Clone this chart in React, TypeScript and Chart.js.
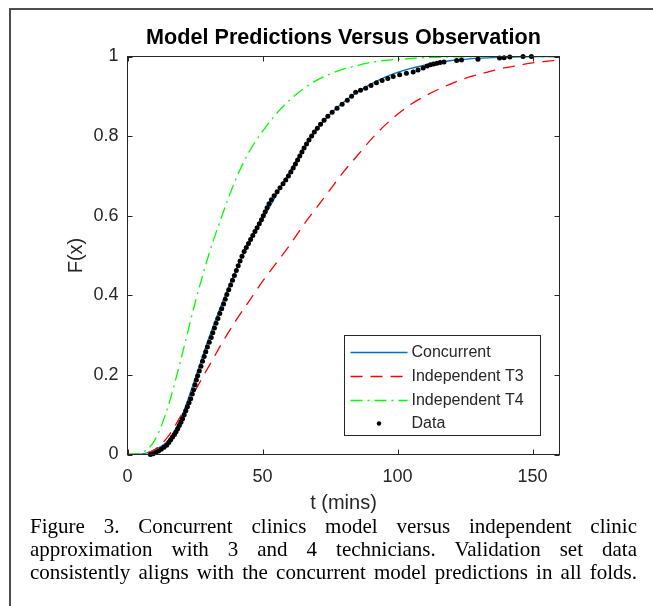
import React, { useEffect, useRef } from "react";
import { Chart, registerables } from "chart.js";

Chart.register(...registerables);

// ---------- data ----------
const timeGrid = [0, 5, 10, 15, 20, 25, 30, 35, 40, 45, 50, 55, 60, 65, 70, 75, 80, 85, 90, 95, 100, 105, 110, 115, 120, 125, 130, 135, 140, 145, 150, 155, 160];

const concurrentF = [0, 0.001, 0.012, 0.035, 0.095, 0.19, 0.29, 0.38, 0.46, 0.53, 0.59, 0.65, 0.71, 0.765, 0.815, 0.855, 0.885, 0.91, 0.93, 0.947, 0.96, 0.97, 0.978, 0.985, 0.99, 0.993, 0.996, 0.997, 0.998, 0.999, 1, 1, 1];

const independentT3F = [0, 0.001, 0.012, 0.045, 0.1, 0.16, 0.22, 0.28, 0.335, 0.385, 0.435, 0.48, 0.525, 0.575, 0.62, 0.665, 0.71, 0.75, 0.79, 0.825, 0.855, 0.88, 0.9, 0.917, 0.932, 0.945, 0.955, 0.964, 0.972, 0.978, 0.984, 0.988, 0.992];

const independentT4F = [0, 0.004, 0.035, 0.12, 0.245, 0.38, 0.5, 0.6, 0.69, 0.76, 0.812, 0.855, 0.89, 0.918, 0.94, 0.956, 0.968, 0.977, 0.985, 0.99, 0.993, 0.995, 0.997, 0.998, 0.999, 0.999, 1, 1, 1, 1, 1, 1, 1];

const dataT = [8.5, 9.5, 10.5, 11.5, 12.5, 13.5, 14.5, 15.3, 16, 16.7,
  17.4, 18, 18.6, 19.2, 19.8, 20.4, 21, 21.6, 22.2, 22.8,
  23.4, 24, 24.5, 25, 25.5, 26, 26.6, 27.2, 27.8, 28.4,
  29, 29.6, 30.3, 31, 31.6, 32.2, 32.8, 33.5, 34.2, 34.9,
  35.6, 36.2, 36.8, 37.5, 38.2, 38.9, 39.6, 40.3, 41, 41.7,
  42.4, 43.2, 44, 44.8, 45.6, 46.4, 47.2, 48, 48.8, 49.6,
  50.3, 51, 51.7, 52.4, 53.3, 54.3, 55.4, 56.5, 57.6, 58.6,
  59.6, 60.5, 61.4, 62.2, 63, 63.8, 64.6, 65.4, 66.3, 67.2,
  68.2, 69.2, 70.3, 71.5, 72.8, 74.2, 75.8, 77.6, 79.5, 81.4,
  83, 84.5, 86.3, 88.2, 90.2, 92.2, 94.3, 96.4, 98.4, 100.8,
  103.3, 105.8, 107.6, 109.5, 111, 112.2, 113.4, 114.6, 115.8, 117.2,
  121.9, 123.7, 129.8, 137.8, 139.5, 141.6, 146.5, 149.6];

const dataF = [0, 0.002, 0.005, 0.009, 0.013, 0.018, 0.023, 0.03, 0.037, 0.044,
  0.05, 0.057, 0.065, 0.073, 0.081, 0.09, 0.1, 0.11, 0.12, 0.13,
  0.14, 0.152, 0.163, 0.175, 0.187, 0.198, 0.21, 0.222, 0.234, 0.246,
  0.258, 0.27, 0.282, 0.294, 0.306, 0.318, 0.33, 0.342, 0.354, 0.366,
  0.378, 0.39, 0.402, 0.414, 0.426, 0.438, 0.45, 0.462, 0.474, 0.486,
  0.498, 0.51, 0.52, 0.53, 0.54, 0.55, 0.56, 0.57, 0.58, 0.59,
  0.6, 0.61, 0.62, 0.63, 0.64, 0.65, 0.66, 0.67, 0.68, 0.69,
  0.7, 0.71, 0.72, 0.73, 0.74, 0.75, 0.76, 0.77, 0.78, 0.79,
  0.8, 0.81, 0.82, 0.83, 0.84, 0.85, 0.86, 0.87, 0.88, 0.89,
  0.9, 0.91, 0.915, 0.92, 0.927, 0.934, 0.94, 0.945, 0.95, 0.954,
  0.958, 0.961, 0.966, 0.971, 0.976, 0.979, 0.981, 0.983, 0.985, 0.986,
  0.99, 0.991, 0.993, 0.996, 0.997, 0.999, 1, 1];

const seriesNames = ["Concurrent", "Independent T3", "Independent T4", "Data"];
const xTicks = [0, 50, 100, 150];
const xTickLabels = ["0", "50", "100", "150"];
const yTicks = [0, 0.2, 0.4, 0.6, 0.8, 1];
const yTickLabels = ["0", "0.2", "0.4", "0.6", "0.8", "1"];
const chartTitle = "Model Predictions Versus Observation";
const xTitle = "t (mins)";
const yTitle = "F(x)";
const captionLines = [
  "Figure 3. Concurrent clinics model versus independent clinic",
  "approximation with 3 and 4 technicians. Validation set data",
  "consistently aligns with the concurrent model predictions in all folds.",
];

// ---------- styling ----------
const SANS = '"Liberation Sans", Arial, Helvetica, sans-serif';
const AX = "#262626";
const BLUE = "#0072BD";
const RED = "#FF0000";
const GREEN = "#00FF00";
const RED_DASH = [12, 8];
const GREEN_DASH = [12, 5, 2, 5];

const axesBoxPlugin = {
  id: "axesBox",
  afterDatasetsDraw(chart: any) {
    const { ctx, chartArea: a, scales } = chart;
    const xs = scales.x;
    const ys = scales.y;
    ctx.save();
    ctx.strokeStyle = AX;
    ctx.lineWidth = 1;
    ctx.setLineDash([]);
    ctx.strokeRect(a.left, a.top, a.right - a.left, a.bottom - a.top);
    const tl = 5;
    ctx.beginPath();
    xTicks.forEach((v) => {
      const px = Math.round(xs.getPixelForValue(v)) + 0.5;
      ctx.moveTo(px, a.bottom);
      ctx.lineTo(px, a.bottom - tl);
      ctx.moveTo(px, a.top);
      ctx.lineTo(px, a.top + tl);
    });
    yTicks.forEach((v) => {
      const py = Math.round(ys.getPixelForValue(v)) + 0.5;
      ctx.moveTo(a.left, py);
      ctx.lineTo(a.left + tl, py);
      ctx.moveTo(a.right, py);
      ctx.lineTo(a.right - tl, py);
    });
    ctx.stroke();
    ctx.restore();
  },
  afterDraw(chart: any) {
    const { ctx, chartArea: a } = chart;
    ctx.save();
    // title centred over the axes box
    ctx.fillStyle = "#000000";
    ctx.font = `bold 21.6px ${SANS}`;
    ctx.textAlign = "center";
    ctx.textBaseline = "middle";
    ctx.fillText(chartTitle, (a.left + a.right) / 2, a.top - 18.5);

    // legend box
    const bx = a.right - 215;
    const by = a.bottom - 119;
    const bw = 196;
    const bh = 100;
    ctx.fillStyle = "#ffffff";
    ctx.fillRect(bx, by, bw, bh);
    ctx.strokeStyle = AX;
    ctx.lineWidth = 1;
    ctx.setLineDash([]);
    ctx.strokeRect(bx, by, bw, bh);
    const rowY = [by + 16, by + 40, by + 64, by + 87.5];
    const lx0 = bx + 6;
    const lx1 = bx + 63;
    chart.data.datasets.forEach((ds: any, i: number) => {
      const y = Math.round(rowY[i]) + 0.5;
      if (ds.showLine === false) {
        ctx.fillStyle = ds.backgroundColor;
        ctx.beginPath();
        ctx.arc((lx0 + lx1) / 2, y, 2.2, 0, Math.PI * 2);
        ctx.fill();
      } else {
        ctx.strokeStyle = ds.borderColor;
        ctx.lineWidth = ds.borderWidth;
        ctx.setLineDash(ds.borderDash || []);
        ctx.beginPath();
        ctx.moveTo(lx0, y);
        ctx.lineTo(lx1, y);
        ctx.stroke();
      }
      ctx.setLineDash([]);
      ctx.fillStyle = AX;
      ctx.font = `16px ${SANS}`;
      ctx.textBaseline = "middle";
      ctx.textAlign = "left";
      ctx.fillText(ds.label, lx1 + 4, y);
    });
    ctx.restore();
  },
};

export default function App() {
  const ref = useRef<HTMLCanvasElement>(null);

  useEffect(() => {
    const canvas = ref.current;
    if (!canvas) return;
    const toPts = (ys: number[]) => timeGrid.map((t, i) => ({ x: t, y: ys[i] }));
    const chart = new Chart(canvas, {
      type: "line",
      data: {
        datasets: [
          {
            label: seriesNames[0],
            data: toPts(concurrentF),
            borderColor: BLUE,
            backgroundColor: BLUE,
            borderWidth: 1.3,
            pointRadius: 0,
            cubicInterpolationMode: "monotone",
            fill: false,
            order: 4,
          },
          {
            label: seriesNames[1],
            data: toPts(independentT3F),
            borderColor: RED,
            backgroundColor: RED,
            borderWidth: 1.3,
            borderDash: RED_DASH,
            pointRadius: 0,
            cubicInterpolationMode: "monotone",
            fill: false,
            order: 3,
          },
          {
            label: seriesNames[2],
            data: toPts(independentT4F),
            borderColor: GREEN,
            backgroundColor: GREEN,
            borderWidth: 1.3,
            borderDash: GREEN_DASH,
            pointRadius: 0,
            cubicInterpolationMode: "monotone",
            fill: false,
            order: 2,
          },
          {
            label: seriesNames[3],
            data: dataT.map((t, i) => ({ x: t, y: dataF[i] })),
            showLine: false,
            borderColor: "#000000",
            backgroundColor: "#000000",
            borderWidth: 0,
            pointRadius: 2.5,
            pointStyle: "circle",
            clip: false,
            order: 1,
          } as any,
        ],
      },
      options: {
        animation: false,
        responsive: false,
        maintainAspectRatio: false,
        events: [],
        layout: { padding: { left: 0, right: 93.5, top: 56.5, bottom: 0 } },
        plugins: {
          legend: { display: false },
          tooltip: { enabled: false },
          title: { display: false },
        },
        scales: {
          x: {
            type: "linear",
            min: 0,
            max: 160,
            afterBuildTicks: (s: any) => {
              s.ticks = xTicks.map((v) => ({ value: v }));
            },
            afterFit: (s: any) => {
              s.height = 520 - 454.5;
            },
            grid: { display: false, drawTicks: false, tickLength: 0 },
            border: { display: false },
            ticks: {
              color: AX,
              font: { family: SANS, size: 18 },
              padding: 12,
              maxRotation: 0,
              callback: (v: any) => xTickLabels[xTicks.indexOf(Number(v))] ?? "",
            },
            title: {
              display: true,
              text: xTitle,
              color: AX,
              font: { family: SANS, size: 20 },
              padding: { top: 0, bottom: 5 },
            },
          },
          y: {
            type: "linear",
            min: 0,
            max: 1,
            afterBuildTicks: (s: any) => {
              s.ticks = yTicks.map((v) => ({ value: v }));
            },
            afterFit: (s: any) => {
              s.width = 127.5;
            },
            grid: { display: false, drawTicks: false, tickLength: 0 },
            border: { display: false },
            ticks: {
              color: AX,
              font: { family: SANS, size: 18 },
              padding: 9,
              callback: (v: any) => yTickLabels[yTicks.indexOf(Number(v))] ?? "",
            },
            title: {
              display: true,
              text: yTitle,
              color: AX,
              font: { family: SANS, size: 20 },
              padding: { top: 64, bottom: 0 },
            },
          },
        },
      },
      plugins: [axesBoxPlugin],
    });
    return () => chart.destroy();
  }, []);

  return (
    <div
      style={{
        position: "fixed",
        left: 0,
        top: 0,
        width: 653,
        height: 606,
        background: "#ffffff",
        overflow: "hidden",
      }}
    >
      <div
        style={{
          position: "absolute",
          left: 9,
          top: 8,
          width: 700,
          height: 700,
          borderLeft: "2px solid #4d4d4d",
          borderTop: "2px solid #4d4d4d",
        }}
      />
      <canvas
        ref={ref}
        width={653}
        height={520}
        style={{ position: "absolute", left: 0, top: 0, width: 653, height: 520, display: "block" }}
      />
      <div
        style={{
          position: "absolute",
          left: 30,
          top: 515,
          width: 607,
          fontFamily: '"Liberation Serif", "Times New Roman", serif',
          fontSize: 21,
          lineHeight: "23px",
          color: "#000000",
        }}
      >
        {captionLines.map((line, i) => (
          <div key={i} style={{ textAlign: "justify", textAlignLast: "justify" }}>
            {line}
          </div>
        ))}
      </div>
    </div>
  );
}
